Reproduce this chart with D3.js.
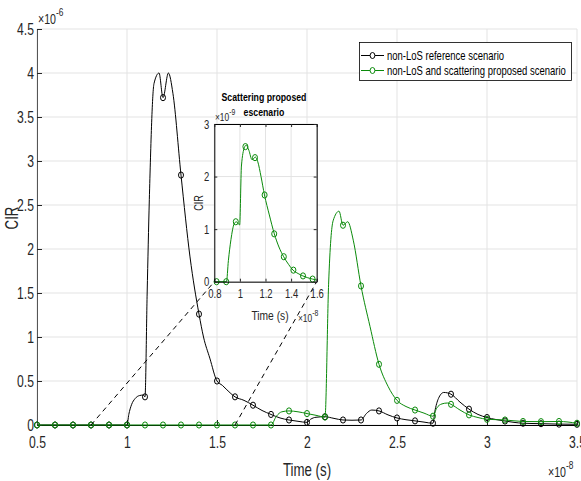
<!DOCTYPE html>
<html><head><meta charset="utf-8">
<script src="https://cdn.jsdelivr.net/npm/d3@7"></script>
<style>
body{margin:0;background:#fff;}
svg text{font-family:"Liberation Sans",Arial,sans-serif;}
</style></head>
<body><svg id="c" width="581" height="481"></svg>
<script>
// ---- data (time in 1e-8 s, CIR in 1e-6; inset CIR in 1e-9) ----
const markerTimes = [0.5,0.6,0.7,0.8,0.9,1.0,1.1,1.2,1.3,1.4,1.5,1.6,1.7,1.8,1.9,2.0,2.1,2.2,2.3,2.4,2.5,2.6,2.7,2.8,2.9,3.0,3.1,3.2,3.3,3.4,3.5];
const refMarkers  = [0,0,0,0,0,0,0.32,3.72,2.84,1.26,0.50,0.32,0.225,0.12,0.057,0.03,0.094,0.057,0.057,0.16,0.08,0.047,0.02,0.35,0.18,0.085,0.045,0.02,0.015,0.01,0.008];
const propMarkers = [0,0,0,0,0,0,0,0,0,0,0,0,0,0,0.16,0.13,0.09,2.27,1.58,0.69,0.28,0.17,0.10,0.235,0.115,0.065,0.057,0.04,0.038,0.04,0.02];

const refLineT = [0.5,1.0,1.01,1.025,1.045,1.07,1.09,1.1,1.112,1.124,1.15,1.178,1.2,1.23,1.255,1.3,1.35,1.4,1.425,1.46,1.5,1.53,1.555,1.6,1.65,1.7,1.75,1.8,1.85,1.9,1.95,2.0,2.02,2.05,2.1,2.15,2.2,2.25,2.3,2.33,2.36,2.4,2.45,2.5,2.55,2.6,2.65,2.7,2.71,2.73,2.76,2.8,2.85,2.9,2.95,3.0,3.05,3.1,3.15,3.2,3.3,3.4,3.5];
const refLineV = [0,0,0.12,0.23,0.3,0.335,0.34,0.32,1.5,2.56,3.88,4.0,3.72,4.0,3.77,2.84,1.91,1.26,1.0,0.76,0.50,0.45,0.40,0.32,0.28,0.225,0.165,0.12,0.08,0.057,0.042,0.03,0.065,0.088,0.094,0.075,0.057,0.054,0.057,0.13,0.17,0.16,0.115,0.08,0.06,0.047,0.033,0.02,0.15,0.3,0.37,0.35,0.26,0.18,0.12,0.085,0.062,0.045,0.03,0.02,0.015,0.01,0.008];

const propLineT = [0.5,1.8,1.83,1.86,1.9,1.95,2.0,2.05,2.1,2.12,2.145,2.178,2.2,2.226,2.257,2.3,2.35,2.4,2.45,2.5,2.55,2.6,2.65,2.7,2.72,2.75,2.78,2.8,2.85,2.9,2.95,3.0,3.1,3.2,3.3,3.4,3.5];
const propLineV = [0,0,0.1,0.15,0.16,0.15,0.13,0.11,0.09,1.6,2.32,2.43,2.27,2.31,2.10,1.58,1.12,0.69,0.44,0.28,0.21,0.17,0.135,0.10,0.19,0.24,0.25,0.235,0.17,0.115,0.085,0.065,0.057,0.04,0.038,0.04,0.02];

const insetMarkerT = [0.818,0.893,0.968,1.043,1.118,1.193,1.268,1.343,1.418,1.493,1.568];
const insetMarkerV = [0,0,1.14,2.57,2.36,1.65,0.91,0.475,0.22,0.11,0.05];
const insetLineT = [0.8,0.818,0.895,0.91,0.93,0.955,0.972,0.998,1.012,1.035,1.049,1.07,1.095,1.121,1.14,1.165,1.192,1.23,1.269,1.305,1.342,1.38,1.415,1.455,1.492,1.53,1.567,1.6];
const insetLineV = [0,0,0,0.4,0.8,1.1,1.14,1.08,2.2,2.55,2.6,2.5,2.32,2.37,2.28,2.0,1.65,1.27,0.91,0.66,0.475,0.33,0.22,0.155,0.11,0.075,0.05,0.03];

const xTicks = [0.5,1,1.5,2,2.5,3,3.5];
const yTicks = [0,0.5,1,1.5,2,2.5,3,3.5,4,4.5];
const insetXTicks = [0.8,1,1.2,1.4,1.6];
const insetYTicks = [0,1,2,3];
const seriesNames = ["non-LoS reference scenario","non-LoS and scattering proposed scenario"];
const zoomRange = [0.8,1.6];

// ---- drawing ----
const svg = d3.select("#c");
const BLACK = "#000", GREEN = "#0a8a0a", GRID = "#e3e3e3", AX = "#262626";
const x = d3.scaleLinear().domain([0.5,3.5]).range([37,577]);
const y = d3.scaleLinear().domain([0,4.5]).range([425,29]);
const g = svg.append("g");

// grid
g.selectAll(".gx").data(xTicks).enter().append("line")
  .attr("x1",d=>x(d)).attr("x2",d=>x(d)).attr("y1",y(0)).attr("y2",y(4.5))
  .attr("stroke",GRID).attr("stroke-width",1);
g.selectAll(".gy").data(yTicks).enter().append("line")
  .attr("y1",d=>y(d)).attr("y2",d=>y(d)).attr("x1",x(0.5)).attr("x2",x(3.5))
  .attr("stroke",GRID).attr("stroke-width",1);

// axes
const xAxis = d3.axisBottom(x).tickValues(xTicks).tickSizeInner(-5).tickSizeOuter(0).tickPadding(12).tickFormat(d3.format("~g"));
const yAxis = d3.axisLeft(y).tickValues(yTicks).tickSizeInner(-5).tickSizeOuter(0).tickPadding(3).tickFormat(d3.format("~g"));
const gx = g.append("g").attr("transform",`translate(0,${y(0)})`).call(xAxis);
const gy = g.append("g").attr("transform",`translate(${x(0.5)},0)`).call(yAxis);
gx.select(".domain").attr("stroke",BLACK);
gy.select(".domain").attr("stroke","#555");
[gx,gy].forEach(a=>{a.selectAll("text").attr("font-size",16).attr("fill",AX).style("font-family",null);
  a.selectAll(".tick line").attr("stroke",AX);});
gx.selectAll("text").attr("dy","0.71em");

// lines
const lineMain = d3.line().x(d=>x(d[0])).y(d=>y(d[1])).curve(d3.curveMonotoneX);
function drawSeries(T,V,MT,MV,color){
  g.append("path").datum(T.map((t,i)=>[t,V[i]])).attr("d",lineMain)
    .attr("fill","none").attr("stroke",color).attr("stroke-width",1);
  g.append("g").selectAll("ellipse").data(MT.map((t,i)=>[t,MV[i]])).enter().append("ellipse")
    .attr("cx",d=>x(d[0])).attr("cy",d=>y(d[1])).attr("rx",2.5).attr("ry",3.1)
    .attr("fill","none").attr("stroke",color).attr("stroke-width",1);
}
drawSeries(refLineT,refLineV,markerTimes,refMarkers,BLACK);
drawSeries(propLineT,propLineV,markerTimes,propMarkers,GREEN);

// inset scales
const xi = d3.scaleLinear().domain([0.8,1.6]).range([214.3,316.7]);
const yi = d3.scaleLinear().domain([0,3]).range([281.7,124]);

// dashed connectors
g.append("line").attr("x1",x(zoomRange[0])).attr("y1",y(0)).attr("x2",xi(0.8)).attr("y2",yi(0))
  .attr("stroke",BLACK).attr("stroke-dasharray","5,4").attr("stroke-width",1);
g.append("line").attr("x1",x(zoomRange[1])).attr("y1",y(0)).attr("x2",xi(1.6)).attr("y2",yi(0))
  .attr("stroke",BLACK).attr("stroke-dasharray","5,4").attr("stroke-width",1);

// labels main
svg.append("text").attr("x",307).attr("y",476).attr("text-anchor","middle").attr("font-size",17.5).attr("fill",AX).text("Time (s)");
svg.append("text").attr("transform","translate(18,218) rotate(-90)").attr("text-anchor","middle").attr("font-size",17.5).attr("fill",AX).text("CIR");
const e6 = svg.append("text").attr("x",38).attr("y",24).attr("font-size",14).attr("fill",AX);
e6.append("tspan").text("\u00d710");
e6.append("tspan").attr("dy",-8).attr("font-size",11).text("-6");
const e8 = svg.append("text").attr("x",548).attr("y",477).attr("font-size",14).attr("fill",AX);
e8.append("tspan").text("\u00d710");
e8.append("tspan").attr("dy",-8).attr("font-size",11).text("-8");

// inset
const gi = svg.append("g");
gi.append("rect").attr("x",xi(0.8)).attr("y",yi(3)).attr("width",xi(1.6)-xi(0.8)).attr("height",yi(0)-yi(3)).attr("fill","#fff");
gi.selectAll(".igx").data(insetXTicks).enter().append("line")
  .attr("x1",d=>xi(d)).attr("x2",d=>xi(d)).attr("y1",yi(0)).attr("y2",yi(3)).attr("stroke",GRID);
gi.selectAll(".igy").data(insetYTicks).enter().append("line")
  .attr("y1",d=>yi(d)).attr("y2",d=>yi(d)).attr("x1",xi(0.8)).attr("x2",xi(1.6)).attr("stroke",GRID);
const lineInset = d3.line().x(d=>xi(d[0])).y(d=>yi(d[1])).curve(d3.curveMonotoneX);
gi.append("path").datum(insetLineT.map((t,i)=>[t,insetLineV[i]])).attr("d",lineInset)
  .attr("fill","none").attr("stroke",GREEN).attr("stroke-width",1);
gi.append("g").selectAll("ellipse").data(insetMarkerT.map((t,i)=>[t,insetMarkerV[i]])).enter().append("ellipse")
  .attr("cx",d=>xi(d[0])).attr("cy",d=>yi(d[1])).attr("rx",2.5).attr("ry",3.1)
  .attr("fill","none").attr("stroke",GREEN).attr("stroke-width",1);
const ixa = gi.append("g").attr("transform",`translate(0,${yi(0)})`)
  .call(d3.axisBottom(xi).tickValues(insetXTicks).tickSizeInner(-3).tickSizeOuter(0).tickPadding(7).tickFormat(d3.format("~g")));
const iya = gi.append("g").attr("transform",`translate(${xi(0.8)},0)`)
  .call(d3.axisLeft(yi).tickValues(insetYTicks).tickSizeInner(-3).tickSizeOuter(0).tickPadding(5).tickFormat(d3.format("~g")));
const ixt = gi.append("g").attr("transform",`translate(0,${yi(3)})`)
  .call(d3.axisTop(xi).tickValues(insetXTicks).tickSizeInner(-3).tickSizeOuter(0).tickFormat(""));
const iyr = gi.append("g").attr("transform",`translate(${xi(1.6)},0)`)
  .call(d3.axisRight(yi).tickValues(insetYTicks).tickSizeInner(-3).tickSizeOuter(0).tickFormat(""));
[ixa,iya,ixt,iyr].forEach(a=>{a.select(".domain").attr("stroke",BLACK);
  a.selectAll("text").attr("font-size",12.5).attr("fill",AX).style("font-family",null);
  a.selectAll(".tick line").attr("stroke",AX);});
ixa.selectAll("text").attr("dy","0.71em");
svg.append("text").attr("x",270).attr("y",320).attr("text-anchor","middle").attr("font-size",13.5).attr("fill",AX).text("Time (s)");
svg.append("text").attr("transform","translate(203,203) rotate(-90)").attr("text-anchor","middle").attr("font-size",12).attr("fill",AX).text("CIR");
const e9 = svg.append("text").attr("x",215).attr("y",121).attr("font-size",11).attr("fill",AX);
e9.append("tspan").text("\u00d710"); e9.append("tspan").attr("dy",-6).attr("font-size",9).text("-9");
const e8i = svg.append("text").attr("x",298).attr("y",322).attr("font-size",11).attr("fill",AX);
e8i.append("tspan").text("\u00d710"); e8i.append("tspan").attr("dy",-6).attr("font-size",9).text("-8");
svg.append("text").attr("x",264).attr("y",101).attr("text-anchor","middle").attr("font-size",11.5).attr("font-weight","bold").attr("fill","#000").text("Scattering proposed");
svg.append("text").attr("x",264).attr("y",116.5).attr("text-anchor","middle").attr("font-size",11.5).attr("font-weight","bold").attr("fill","#000").text("escenario");

// legend
const lg = svg.append("g");
lg.append("rect").attr("x",359.5).attr("y",42.5).attr("width",212).attr("height",38).attr("fill","#fff").attr("stroke",BLACK).attr("stroke-width",0.8);
[[BLACK,55.5],[GREEN,70.5]].forEach((c,i)=>{
  lg.append("line").attr("x1",361).attr("x2",384).attr("y1",c[1]).attr("y2",c[1]).attr("stroke",c[0]);
  lg.append("ellipse").attr("cx",372.5).attr("cy",c[1]).attr("rx",2.4).attr("ry",3).attr("fill","#fff").attr("stroke",c[0]);
  lg.append("text").attr("x",387).attr("y",c[1]+4.5).attr("font-size",12.5).attr("fill","#000").text(seriesNames[i]);
});

// narrow the glyphs horizontally (reference uses a condensed face)
const SX = 0.76;
svg.selectAll("text").each(function(){
  const t = d3.select(this);
  const tx = +(t.attr("x")||0), ty = +(t.attr("y")||0);
  const prev = t.attr("transform")||"";
  t.attr("transform", `${prev} translate(${tx},${ty}) scale(${SX},1) translate(${-tx},${-ty})`);
});
</script></body></html>
